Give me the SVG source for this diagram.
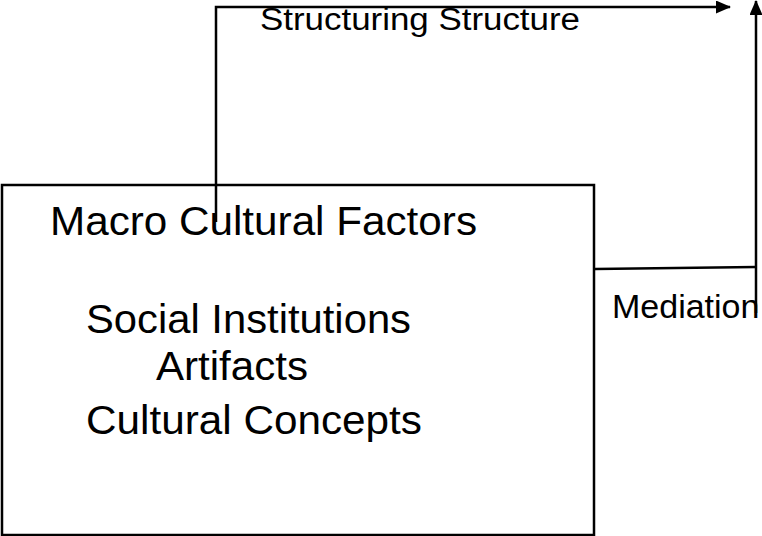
<svg xmlns="http://www.w3.org/2000/svg" width="762" height="536" viewBox="0 0 762 536">
<style>
.ln{fill:none;stroke:#000;stroke-width:2.5}
.t{font-family:"Liberation Sans",Arial,sans-serif;fill:#000}
</style>
<defs>
<marker id="ah" markerWidth="15" markerHeight="13" refX="14" refY="6.5" orient="auto" markerUnits="userSpaceOnUse">
<path d="M0,0 L15,6.5 L0,13 Z" fill="#000"/>
</marker>
</defs>
<rect width="762" height="536" fill="#fff"/>
<g id="macro-box">
<rect class="ln" x="2" y="185" width="592" height="350"/>
<text class="t" x="50" y="235" font-size="40" textLength="427" lengthAdjust="spacingAndGlyphs">Macro Cultural Factors</text>
<text class="t" x="86" y="333" font-size="40" textLength="325" lengthAdjust="spacingAndGlyphs">Social Institutions</text>
<text class="t" x="156" y="380" font-size="40" textLength="152" lengthAdjust="spacingAndGlyphs">Artifacts</text>
<text class="t" x="86" y="434" font-size="40" textLength="336" lengthAdjust="spacingAndGlyphs">Cultural Concepts</text>
</g>
<g id="connectors">
<polyline class="ln" points="216,222 216,7 730,7" marker-end="url(#ah)"/>
<line class="ln" x1="756" y1="313" x2="756" y2="1" marker-end="url(#ah)"/>
<line class="ln" x1="595" y1="269" x2="756" y2="267"/>
</g>
<g id="labels">
<text class="t" x="612" y="318" font-size="34">Mediation</text>
<text class="t" x="260" y="30" font-size="31" textLength="320" lengthAdjust="spacingAndGlyphs">Structuring  Structure</text>
</g>
</svg>
